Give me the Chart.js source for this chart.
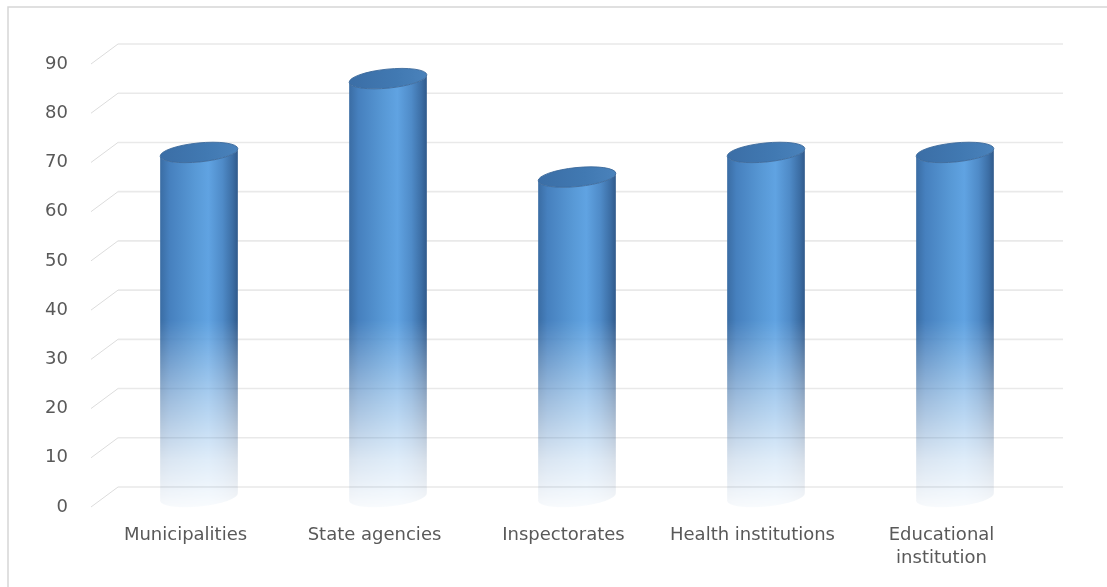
<!DOCTYPE html>
<html>
<head>
<meta charset="utf-8">
<script src="https://cdn.jsdelivr.net/npm/chart.js@4/dist/chart.umd.min.js"></script>
<style>
  html, body { margin: 0; padding: 0; background: #ffffff; }
  #wrap { position: relative; width: 1107px; height: 587px; }
</style>
</head>
<body>
<div id="wrap"><canvas id="chart" width="1107" height="587"></canvas></div>
<script>
// Chart data
const categories = ['Municipalities', 'State agencies', 'Inspectorates', 'Health institutions', ['Educational', 'institution']];
const values = [70, 85, 65, 70, 70];
const yMin = 0;
const yMax = 90;
const yStep = 10;

// Perspective offset of the back wall relative to the front plane
const DEPTH_X = 27;
const DEPTH_Y = 20;
const TEXT_COLOR = '#595959';
const FONT_FAMILY = '"DejaVu Sans", Verdana, sans-serif';

const depthPlugin = {
  id: 'depthPlugin',
  beforeDraw(chart) {
    const ctx = chart.ctx;
    ctx.save();
    ctx.strokeStyle = '#d6d6d6';
    ctx.lineWidth = 1.5;
    ctx.beginPath();
    ctx.moveTo(8, chart.height + 2);
    ctx.lineTo(8, 7);
    ctx.lineTo(chart.width + 2, 7);
    ctx.stroke();
    ctx.restore();
  },
  beforeDatasetsDraw(chart) {
    const ctx = chart.ctx;
    const ys = chart.scales.y;
    const { left, right } = chart.chartArea;
    ctx.save();
    ys.ticks.forEach(t => {
      const py = ys.getPixelForValue(t.value);
      // floor-to-wall diagonal
      ctx.strokeStyle = '#dcdcdc';
      ctx.lineWidth = 1;
      ctx.beginPath();
      ctx.moveTo(left, py);
      ctx.lineTo(left + DEPTH_X, py - DEPTH_Y);
      ctx.stroke();
      // back wall gridline
      ctx.strokeStyle = '#e9e9e9';
      ctx.lineWidth = 1.6;
      ctx.beginPath();
      ctx.moveTo(left + DEPTH_X, py - DEPTH_Y);
      ctx.lineTo(right + DEPTH_X, py - DEPTH_Y);
      ctx.stroke();
    });
    ctx.restore();
  },
  afterDatasetsDraw(chart) {
    const meta = chart.getDatasetMeta(0);
    const ys = chart.scales.y;
    const off = document.createElement('canvas');
    off.width = chart.width;
    off.height = chart.height;
    const c = off.getContext('2d');
    const rot = -0.1;
    let maxBase = 0;

    meta.data.forEach(bar => {
      const p = bar.getProps(['x', 'y', 'base', 'width'], true);
      const cx = p.x + DEPTH_X / 2;
      const topY = p.y - DEPTH_Y / 2;
      const baseY = p.base - DEPTH_Y / 2;
      const rx = p.width / 2;
      const ry = 9.5;
      maxBase = Math.max(maxBase, baseY + ry);

      // cylinder body
      const g = c.createLinearGradient(cx - rx, 0, cx + rx, 0);
      g.addColorStop(0, '#3a6ca3');
      g.addColorStop(0.12, '#4680be');
      g.addColorStop(0.45, '#5899d6');
      g.addColorStop(0.62, '#60a3e2');
      g.addColorStop(0.8, '#4f8bc8');
      g.addColorStop(0.93, '#3c6ea5');
      g.addColorStop(1, '#30598a');
      c.beginPath();
      c.ellipse(cx, topY, rx, ry, rot, 0, Math.PI, false);
      c.ellipse(cx, baseY, rx, ry, rot, Math.PI, 0, true);
      c.closePath();
      c.fillStyle = g;
      c.fill();

      // top face
      const tg = c.createLinearGradient(cx - rx, topY, cx + rx, topY);
      tg.addColorStop(0, '#3b6ea6');
      tg.addColorStop(0.6, '#4179b2');
      tg.addColorStop(1, '#4a82bb');
      c.beginPath();
      c.ellipse(cx, topY, rx, ry, rot, 0, Math.PI * 2);
      c.fillStyle = tg;
      c.fill();
      c.strokeStyle = 'rgba(60,105,155,0.9)';
      c.lineWidth = 1;
      c.stroke();
    });

    // fade the lower part of each cylinder out towards the floor
    const fadeTop = ys.getPixelForValue(36) - DEPTH_Y / 2;
    const f = fadeTop / maxBase;
    const mask = c.createLinearGradient(0, 0, 0, maxBase);
    mask.addColorStop(0, 'rgba(0,0,0,1)');
    mask.addColorStop(f, 'rgba(0,0,0,1)');
    mask.addColorStop(f + (1 - f) * 0.4, 'rgba(0,0,0,0.55)');
    mask.addColorStop(f + (1 - f) * 0.75, 'rgba(0,0,0,0.2)');
    mask.addColorStop(1, 'rgba(0,0,0,0.04)');
    c.globalCompositeOperation = 'destination-in';
    c.fillStyle = mask;
    c.fillRect(0, 0, off.width, off.height);

    chart.ctx.drawImage(off, 0, 0);
  }
};

new Chart(document.getElementById('chart'), {
  type: 'bar',
  data: {
    labels: categories,
    datasets: [{
      data: values,
      backgroundColor: 'rgba(0,0,0,0)',
      borderWidth: 0,
      barPercentage: 0.413,
      categoryPercentage: 1
    }]
  },
  options: {
    responsive: false,
    animation: false,
    events: [],
    layout: { padding: { left: 0, right: 71, top: 64, bottom: 0 } },
    plugins: {
      legend: { display: false },
      tooltip: { enabled: false },
      title: { display: false }
    },
    scales: {
      x: {
        grid: { display: false, drawTicks: false },
        border: { display: false },
        ticks: {
          color: TEXT_COLOR,
          font: { family: FONT_FAMILY, size: 18, lineHeight: 1.28 },
          padding: 17,
          maxRotation: 0,
          autoSkip: false
        },
        afterFit(s) { s.height = 80; }
      },
      y: {
        min: yMin,
        max: yMax,
        grid: { display: false, drawTicks: false },
        border: { display: false },
        ticks: {
          stepSize: yStep,
          color: TEXT_COLOR,
          font: { family: FONT_FAMILY, size: 18 },
          padding: 23
        },
        afterFit(s) { s.width = 91; }
      }
    }
  },
  plugins: [depthPlugin]
});
</script>
</body>
</html>
